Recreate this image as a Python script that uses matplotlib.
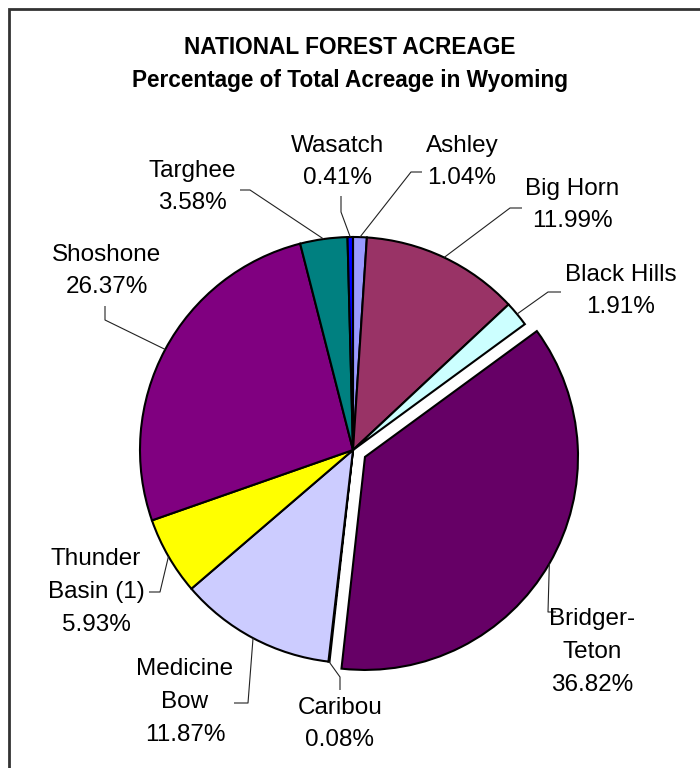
import numpy as np
import matplotlib.pyplot as plt
from matplotlib.patches import Rectangle

# National forest share of total acreage in Wyoming (clockwise from 12 o'clock)
forests = ["Ashley", "Big Horn", "Black Hills", "Bridger-\nTeton", "Caribou",
           "Medicine\nBow", "Thunder\nBasin (1)", "Shoshone", "Targhee", "Wasatch"]
percent = [1.04, 11.99, 1.91, 36.82, 0.08, 11.87, 5.93, 26.37, 3.58, 0.41]
colors = ["#9999FF", "#993366", "#CCFFFF", "#660066", "#0066CC",
          "#CCCCFF", "#FFFF00", "#800080", "#008080", "#0000FF"]
explode = [0, 0, 0, 0.065, 0, 0, 0, 0, 0, 0]   # fraction of radius

W, H = 700, 768
CX, CY, R = 353, 450, 213          # pie centre / radius, px from top-left

# label centres and leader-line bends, px from top-left
label_xy = {
    "Ashley": (462, 162), "Big Horn": (572, 205), "Black Hills": (621, 291),
    "Bridger-\nTeton": (592, 652), "Caribou": (340, 724),
    "Medicine\nBow": (185, 702), "Thunder\nBasin (1)": (96, 592),
    "Shoshone": (107, 271), "Targhee": (192, 187), "Wasatch": (338, 162),
}
leader = {
    "Ashley": [(411, 172), (422, 172)], "Big Horn": [(510, 208), (522, 208)],
    "Black Hills": [(548, 292), (561, 292)],
    "Bridger-\nTeton": [(548, 612), (556, 612)],
    "Caribou": [(340, 677), (340, 690)],
    "Medicine\nBow": [(248, 703), (234, 703)],
    "Thunder\nBasin (1)": [(160, 592), (149, 592)],
    "Shoshone": [(105, 320), (105, 306)],
    "Targhee": [(250, 190), (240, 190)],
    "Wasatch": [(341, 212), (341, 196)],
}

FONT = "Liberation Sans"

fig = plt.figure(figsize=(W / 100, H / 100), dpi=100)
ax = fig.add_axes([0, 0, 1, 1])

wedges, _ = ax.pie(percent, colors=colors, explode=[e * R for e in explode],
                   startangle=90, counterclock=False, center=(CX, H - CY),
                   radius=R, wedgeprops=dict(edgecolor="black", linewidth=1.5))
ax.set_xlim(0, W)
ax.set_ylim(0, H)
ax.set_aspect("equal")
ax.axis("off")

for w, name, pct in zip(wedges, forests, percent):
    mid = np.deg2rad((w.theta1 + w.theta2) / 2)
    cx, cy = w.center
    pts = [(cx + R * np.cos(mid), cy + R * np.sin(mid))]
    pts += [(x, H - y) for x, y in leader[name]]
    xs, ys = zip(*pts)
    ax.plot(xs, ys, color="#222222", lw=0.8, solid_capstyle="butt")
    lx, ly = label_xy[name]
    ax.text(lx, H - ly, f"{name}\n{pct:.2f}%", ha="center", va="center",
            fontsize=17.5, family=FONT, linespacing=1.62)

ax.text(W / 2, H - 47, "NATIONAL FOREST ACREAGE", ha="center", va="center",
        fontsize=16.3, fontweight="bold", family=FONT)
ax.text(W / 2, H - 81, "Percentage of Total Acreage in Wyoming", ha="center",
        va="center", fontsize=16.3, fontweight="bold", family=FONT)

# chart-area border (runs off the right and bottom edges)
ax.add_patch(Rectangle((8.5, -20), W + 20, H - 9 + 20, fill=False,
                       edgecolor="#333333", linewidth=2, clip_on=False))

fig.savefig("out.png", dpi=100)
